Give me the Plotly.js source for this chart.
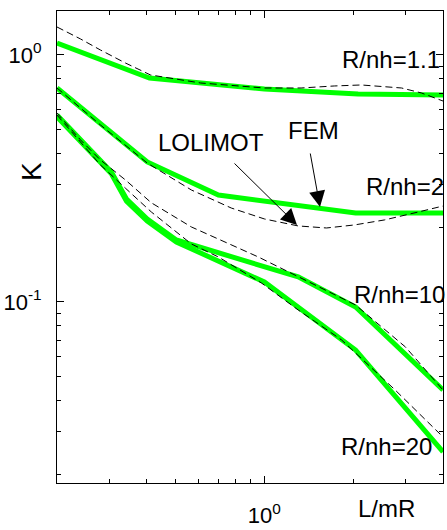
<!DOCTYPE html>
<html>
<head>
<meta charset="utf-8">
<script src="https://cdn.plot.ly/plotly-3.0.1.min.js"></script>
<style>html,body{margin:0;padding:0;background:#fff;}#chart{width:447px;height:530px;}</style>
</head>
<body>
<div id="chart"></div>
<script>
// ---- data ----
// R/nh = 1.1
var lolimot11_x = [0.2, 0.41, 1.0, 2.07, 4.0];
var lolimot11_y = [1.118, 0.807, 0.728, 0.695, 0.689];
var fem11_x = [0.2, 0.24, 0.28, 0.34, 0.413, 0.61, 1.0, 1.33, 1.72, 2.12, 2.9, 3.38, 4.0];
var fem11_y = [1.298, 1.161, 1.048, 0.928, 0.830, 0.770, 0.735, 0.735, 0.749, 0.756, 0.735, 0.702, 0.651];
// R/nh = 2
var lolimot2_x = [0.2, 0.403, 0.70, 2.03, 4.0];
var lolimot2_y = [0.735, 0.369, 0.271, 0.229, 0.229];
var fem2_x = [0.2, 0.28, 0.403, 0.5675, 0.774, 1.0, 1.30, 1.62, 2.01, 2.54, 3.30, 4.0];
var fem2_y = [0.735, 0.521, 0.365, 0.284, 0.240, 0.2168, 0.2031, 0.1993, 0.2050, 0.2148, 0.2313, 0.2446];
// R/nh = 10
var lolimot10_x = [0.2, 0.305, 0.343, 0.403, 0.505, 1.30, 2.03, 4.0];
var lolimot10_y = [0.571, 0.336, 0.261, 0.2168, 0.1782, 0.1263, 0.0954, 0.0440];
var fem10_x = [0.2, 0.24, 0.28, 0.34, 0.416, 0.5675, 0.954, 1.30, 2.03, 2.99, 4.0];
var fem10_y = [0.582, 0.453, 0.376, 0.312, 0.252, 0.2012, 0.1521, 0.1263, 0.0972, 0.0657, 0.0440];
// R/nh = 20
var lolimot20_x = [0.2, 0.305, 0.343, 0.403, 0.505, 1.0, 2.03, 4.0];
var lolimot20_y = [0.561, 0.330, 0.256, 0.2128, 0.1749, 0.1205, 0.0639, 0.0247];
var fem20_x = [0.2, 0.24, 0.28, 0.34, 0.416, 0.5675, 0.70, 0.977, 1.30, 1.82, 2.76, 4.0];
var fem20_y = [0.571, 0.444, 0.359, 0.289, 0.2313, 0.1717, 0.1521, 0.1194, 0.0928, 0.0702, 0.0440, 0.0284];

// tick labels
var xTickVals = [1];
var xTickText = ['10<sup>0</sup>'];
var yTickVals = [0.1, 1];
var yTickText = ['10<sup>-1</sup>', '10<sup>0</sup>'];
var xMinorVals = [0.3, 0.4, 0.5, 0.6, 0.7, 0.8, 0.9, 2, 3, 4];
var yMinorVals = [0.02, 0.03, 0.04, 0.05, 0.06, 0.07, 0.08, 0.09, 0.2, 0.3, 0.4, 0.5, 0.6, 0.7, 0.8, 0.9];

var curveLabels = ['R/nh=1.1', 'R/nh=2', 'R/nh=10', 'R/nh=20'];

// ---- traces ----
var green = {color: '#00ff00', width: 5};
var dashed = {color: '#000000', width: 1, dash: '7px,4px'};
function tr(x, y, line, name) {
  return {x: x, y: y, mode: 'lines', line: line, name: name, showlegend: false, hoverinfo: 'skip'};
}
var data = [
  tr(lolimot11_x, lolimot11_y, green, 'LOLIMOT ' + curveLabels[0]),
  tr(lolimot2_x, lolimot2_y, green, 'LOLIMOT ' + curveLabels[1]),
  tr(lolimot10_x, lolimot10_y, green, 'LOLIMOT ' + curveLabels[2]),
  tr(lolimot20_x, lolimot20_y, green, 'LOLIMOT ' + curveLabels[3]),
  tr(fem11_x, fem11_y, dashed, 'FEM ' + curveLabels[0]),
  tr(fem2_x, fem2_y, dashed, 'FEM ' + curveLabels[1]),
  tr(fem10_x, fem10_y, dashed, 'FEM ' + curveLabels[2]),
  tr(fem20_x, fem20_y, dashed, 'FEM ' + curveLabels[3])
];

var W = 447, H = 530, L = 57, R = 4, T = 11, B = 47;
var pw = W - L - R, ph = H - T - B;
function px(x) { return (x - L) / pw; }
function py(y) { return (H - B - y) / ph; }

var labFont = {family: '"Liberation Sans", Arial, sans-serif', size: 24, color: '#000'};
var tickFont = {family: '"Liberation Sans", Arial, sans-serif', size: 22, color: '#000'};

function txt(t, x, y, angle) {
  return {text: t, xref: 'paper', yref: 'paper', x: px(x), y: py(y), xanchor: 'left', yanchor: 'middle',
          showarrow: false, font: labFont, textangle: angle || 0, borderpad: 0};
}
function arrow(x0, y0, x1, y1) {
  return {text: '', xref: 'paper', yref: 'paper', x: px(x1), y: py(y1), ax: x0 - x1, ay: y0 - y1,
          showarrow: true, arrowhead: 2, arrowsize: 3.2, arrowwidth: 1, arrowcolor: '#000', standoff: 0};
}

var axisCommon = {
  type: 'log', showgrid: false, zeroline: false, showline: true, linecolor: '#000', linewidth: 1,
  mirror: 'ticks', ticks: 'inside', ticklen: 7, tickwidth: 1, tickcolor: '#000',
  tickmode: 'array', tickfont: tickFont, fixedrange: true
};

var layout = {
  width: W, height: H,
  margin: {l: L, r: R, t: T, b: B},
  paper_bgcolor: '#fff', plot_bgcolor: '#fff',
  showlegend: false,
  xaxis: Object.assign({}, axisCommon, {
    range: [Math.log10(0.2), Math.log10(4)],
    tickvals: xTickVals, ticktext: xTickText, ticklabelstandoff: 13,
    minor: {tickmode: 'array', tickvals: xMinorVals, ticks: 'inside', ticklen: 4, tickwidth: 1, tickcolor: '#000', showgrid: false}
  }),
  yaxis: Object.assign({}, axisCommon, {
    range: [-1.733, 0.178],
    tickvals: yTickVals, ticktext: yTickText, ticklabelstandoff: 10,
    minor: {tickmode: 'array', tickvals: yMinorVals, ticks: 'inside', ticklen: 4, tickwidth: 1, tickcolor: '#000', showgrid: false}
  }),
  annotations: [
    txt(curveLabels[0], 341, 60),
    txt(curveLabels[1], 365, 186),
    txt(curveLabels[2], 353, 294),
    txt(curveLabels[3], 340, 446),
    txt('LOLIMOT', 157, 142),
    txt('FEM', 287, 130),
    txt('L/mR', 357, 508),
    {text: 'K', xref: 'paper', yref: 'paper', x: px(31), y: py(172), xanchor: 'center', yanchor: 'middle',
     showarrow: false, font: {family: labFont.family, size: 28, color: '#000'}, textangle: -90},
    arrow(233, 162, 297, 225),
    arrow(310, 152, 320, 207)
  ]
};

Plotly.newPlot('chart', data, layout, {staticPlot: true, displayModeBar: false});
</script>
</body>
</html>
